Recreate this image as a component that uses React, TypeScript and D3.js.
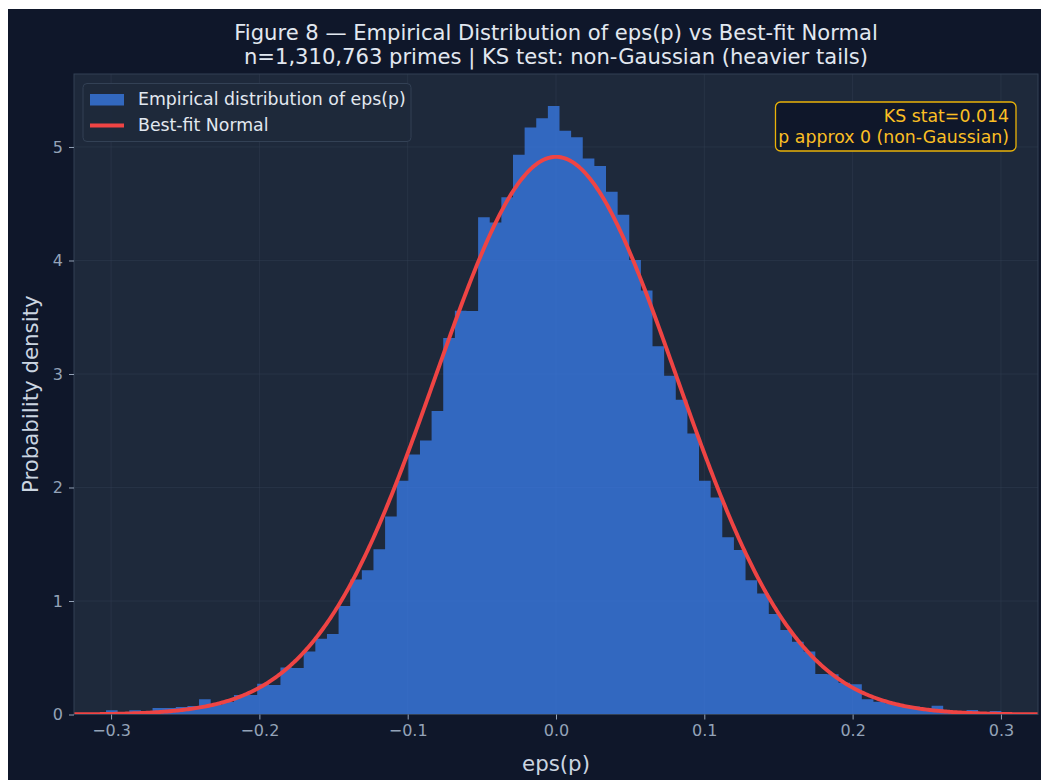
import React, { useRef, useEffect } from "react";
import * as d3 from "d3";

const W = 1041;
const H = 780;

// histogram bins (density=True), 77 bins of equal width
const binStart = -0.3034;
const binWidth = 0.00784;
const density = [
  0.037, 0.014, 0.037, 0.028, 0.057, 0.057, 0.066, 0.075, 0.134, 0.085,
  0.11, 0.172, 0.172, 0.27, 0.26, 0.415, 0.41, 0.556, 0.668, 0.71,
  0.955, 1.19, 1.27, 1.455, 1.745, 2.06, 2.29, 2.415, 2.675, 3.316,
  3.558, 3.555, 4.38, 4.334, 4.557, 4.932, 5.172, 5.254, 5.36, 5.142,
  5.085, 4.898, 4.833, 4.606, 4.402, 4.004, 3.736, 3.245, 2.985, 2.774,
  2.476, 2.06, 1.912, 1.561, 1.45, 1.183, 1.066, 0.885, 0.744, 0.642,
  0.555, 0.356, 0.354, 0.28, 0.266, 0.135, 0.113, 0.1, 0.082, 0.07,
  0.055, 0.077, 0.03, 0.025, 0.04, 0.015, 0.03,
];

// best-fit normal parameters
const normalMu = 0.0;
const normalSigma = 0.0812;

const xTicks = [-0.3, -0.2, -0.1, 0, 0.1, 0.2, 0.3];
const yTicks = [0, 1, 2, 3, 4, 5];

const titleLines = [
  "Figure 8 \u2014 Empirical Distribution of eps(p) vs Best-fit Normal",
  "n=1,310,763 primes | KS test: non-Gaussian (heavier tails)",
];
const legendLabels = ["Empirical distribution of eps(p)", "Best-fit Normal"];
const ksLines = ["KS stat=0.014", "p approx 0 (non-Gaussian)"];

const FONT = "DejaVu Sans, Liberation Sans, sans-serif";
const BAR = "#3b82f6";
const BAR_OPACITY = 0.71;
const LINE = "#ef4444";

const App = () => {
  const svgRef = useRef<SVGSVGElement>(null);

  useEffect(() => {
    const svg = d3.select(svgRef.current);
    svg.selectAll("*").remove();

    const left = 74, right = 1038, top = 74, bottom = 714.5;
    const x = d3.scaleLinear().domain([-0.325, 0.325]).range([left, right]);
    const y = d3.scaleLinear().domain([0, 5.643]).range([bottom, top]);

    // figure background (page margin stays white)
    svg.append("rect").attr("width", W).attr("height", H).attr("fill", "#ffffff");
    svg.append("rect").attr("x", 8).attr("y", 9).attr("width", W - 8).attr("height", H - 9).attr("fill", "#0f172a");

    // plot area
    svg.append("rect")
      .attr("x", left).attr("y", top)
      .attr("width", right - left).attr("height", bottom - top)
      .attr("fill", "#1e293b");

    svg.append("clipPath").attr("id", "plot-clip")
      .append("rect")
      .attr("x", left).attr("y", top)
      .attr("width", right - left).attr("height", bottom - top);

    // grid
    const grid = svg.append("g").attr("stroke", "#334155").attr("stroke-opacity", 0.5).attr("stroke-width", 0.9);
    grid.selectAll(".gx").data(xTicks).join("line")
      .attr("x1", d => x(d)).attr("x2", d => x(d))
      .attr("y1", top).attr("y2", bottom);
    grid.selectAll(".gy").data(yTicks).join("line")
      .attr("x1", left).attr("x2", right)
      .attr("y1", d => y(d)).attr("y2", d => y(d));

    // histogram as one stepped shape so neighbouring bars have no seams
    const steps = density.map((d, i) => ({ edge: binStart + i * binWidth, d }));
    steps.push({ edge: binStart + density.length * binWidth, d: density[density.length - 1] });
    const histArea = d3.area<{ edge: number; d: number }>()
      .x(p => x(p.edge))
      .y0(y(0))
      .y1(p => y(p.d))
      .curve(d3.curveStepAfter);
    svg.append("path")
      .attr("d", histArea(steps))
      .attr("fill", BAR)
      .attr("fill-opacity", BAR_OPACITY);

    // best-fit normal pdf
    const pdf = (v: number) =>
      Math.exp(-0.5 * ((v - normalMu) / normalSigma) ** 2) / (normalSigma * Math.sqrt(2 * Math.PI));
    const xs = d3.range(-0.325, 0.3251, 0.001);
    const normalLine = d3.line<number>().x(v => x(v)).y(v => y(pdf(v)));
    svg.append("path")
      .attr("clip-path", "url(#plot-clip)")
      .attr("d", normalLine(xs))
      .attr("fill", "none")
      .attr("stroke", LINE)
      .attr("stroke-width", 3.9)
      .attr("stroke-linejoin", "round");

    // spines
    svg.append("rect")
      .attr("x", left).attr("y", top)
      .attr("width", right - left).attr("height", bottom - top)
      .attr("fill", "none").attr("stroke", "#334155").attr("stroke-width", 1);

    // axes
    const xAxis = d3.axisBottom(x).tickValues(xTicks).tickFormat(d3.format(".1f")).tickSize(5).tickPadding(5);
    const gx = svg.append("g").attr("transform", `translate(0,${bottom})`).call(xAxis);
    const yAxis = d3.axisLeft(y).tickValues(yTicks).tickFormat(d3.format("d")).tickSize(5).tickPadding(6);
    const gy = svg.append("g").attr("transform", `translate(${left},0)`).call(yAxis);
    [gx, gy].forEach(g => {
      g.select(".domain").remove();
      g.selectAll(".tick line").attr("stroke", "#94a3b8");
      g.selectAll(".tick text")
        .attr("fill", "#94a3b8")
        .attr("font-family", FONT)
        .attr("font-size", 16);
    });

    // axis labels
    svg.append("text")
      .attr("x", (left + right) / 2).attr("y", 771)
      .attr("text-anchor", "middle")
      .attr("font-family", FONT).attr("font-size", 21.33)
      .attr("fill", "#cbd5e1")
      .text("eps(p)");
    svg.append("text")
      .attr("transform", `translate(38,${(top + bottom) / 2}) rotate(-90)`)
      .attr("text-anchor", "middle")
      .attr("font-family", FONT).attr("font-size", 21.33)
      .attr("fill", "#cbd5e1")
      .text("Probability density");

    // title
    svg.selectAll(".title").data(titleLines).join("text")
      .attr("x", (left + right) / 2)
      .attr("y", (_, i) => 40 + i * 24)
      .attr("text-anchor", "middle")
      .attr("font-family", FONT).attr("font-size", 21.1)
      .attr("fill", "#e2e8f0")
      .text(d => d);

    // legend
    const lg = svg.append("g");
    lg.append("rect")
      .attr("x", 83).attr("y", 83.5).attr("width", 328).attr("height", 58).attr("rx", 4)
      .attr("fill", "#1e293b").attr("fill-opacity", 0.9)
      .attr("stroke", "#334155").attr("stroke-width", 1);
    lg.append("rect")
      .attr("x", 90).attr("y", 94).attr("width", 34).attr("height", 11.5)
      .attr("fill", BAR).attr("fill-opacity", BAR_OPACITY);
    lg.append("line")
      .attr("x1", 90).attr("x2", 124).attr("y1", 125.5).attr("y2", 125.5)
      .attr("stroke", LINE).attr("stroke-width", 3.9);
    lg.selectAll(".lt").data(legendLabels).join("text")
      .attr("x", 138)
      .attr("y", (_, i) => 104.5 + i * 26)
      .attr("font-family", FONT).attr("font-size", 17.33)
      .attr("fill", "#e2e8f0")
      .text(d => d);

    // KS annotation
    const ks = svg.append("g");
    ks.append("rect")
      .attr("x", 775.5).attr("y", 102).attr("width", 240.5).attr("height", 49).attr("rx", 5)
      .attr("fill", "#0f172a")
      .attr("stroke", "#eab308").attr("stroke-width", 1.3);
    ks.selectAll(".kt").data(ksLines).join("text")
      .attr("x", 1009)
      .attr("y", (_, i) => 121.5 + i * 21.5)
      .attr("text-anchor", "end")
      .attr("font-family", FONT).attr("font-size", 17.33)
      .attr("fill", "#fbbf24")
      .text(d => d);
  }, []);

  return (
    <div style={{ position: "fixed", left: 0, top: 0, width: W, height: H, overflow: "hidden" }}>
      <svg ref={svgRef} width={W} height={H} style={{ display: "block" }} />
    </div>
  );
};

export default App;
